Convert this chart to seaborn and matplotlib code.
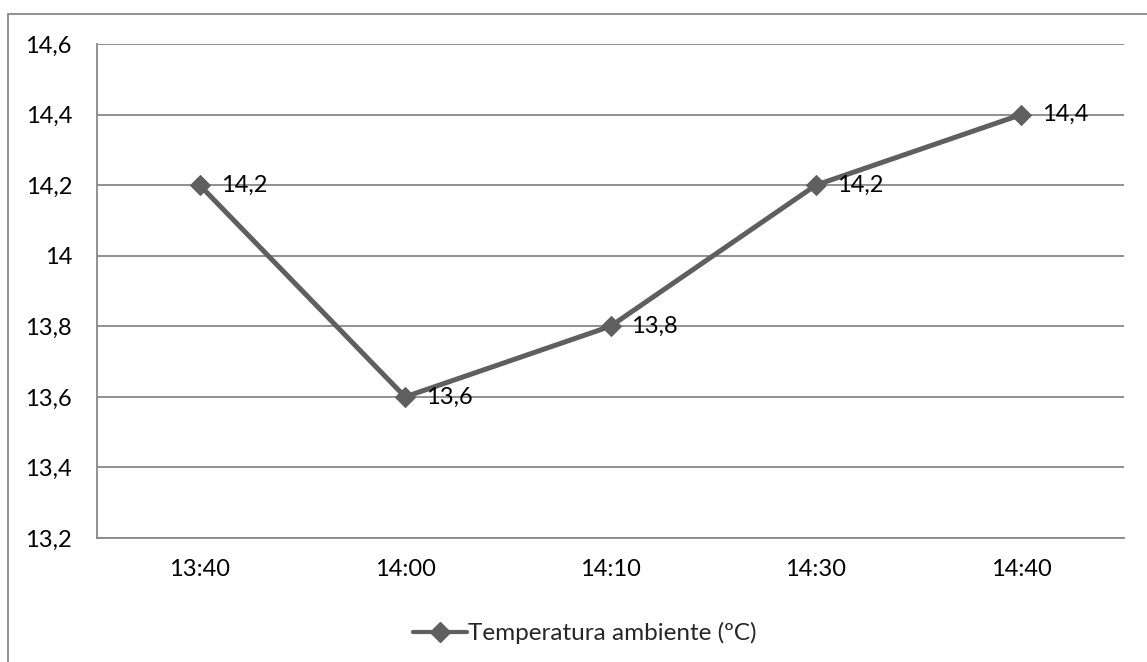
import matplotlib
matplotlib.use("Agg")
import matplotlib.pyplot as plt
import seaborn as sns
import pandas as pd
from matplotlib.patches import Rectangle
from matplotlib.lines import Line2D

times = ["13:40", "14:00", "14:10", "14:30", "14:40"]
temps = [14.2, 13.6, 13.8, 14.2, 14.4]
series_name = "Temperatura ambiente (ºC)"
yticks = [13.2, 13.4, 13.6, 13.8, 14.0, 14.2, 14.4, 14.6]

def fmt(v):
    s = f"{v:.1f}"
    if s.endswith(".0"):
        s = s[:-2]
    return s.replace(".", ",")

sns.set_theme(style="white")
plt.rcParams['font.family'] = ['Lato', 'DejaVu Sans']

df = pd.DataFrame({"time": times, "temp": temps})

W, H = 1147, 662
fig = plt.figure(figsize=(W / 100, H / 100), dpi=100)
ax = fig.add_axes([97 / W, 1 - 538 / H, (1124 - 97) / W, (538 - 44) / H])

line_color = "#5f5f5f"
grid_color = "#888888"
fs = 17

sns.lineplot(data=df, x="time", y="temp", ax=ax, color=line_color, linewidth=3.6,
             marker="D", markersize=10.5, markeredgecolor=line_color, sort=False)

ax.set_xlim(-0.5, len(times) - 0.5)
ax.set_ylim(13.2, 14.6)
ax.set_yticks(yticks)
ax.set_yticklabels([fmt(v) for v in yticks])
ax.set_xticks(range(len(times)))
ax.set_xticklabels(times)
ax.set_xlabel("")
ax.set_ylabel("")

ax.yaxis.grid(True, color=grid_color, linewidth=1.3)
ax.set_axisbelow(True)
for side in ["top", "right"]:
    ax.spines[side].set_visible(False)
for side in ["left", "bottom"]:
    ax.spines[side].set_color(grid_color)
    ax.spines[side].set_linewidth(1.3)

ax.tick_params(axis="y", length=0, pad=18, labelsize=fs, labelcolor="black")
ax.tick_params(axis="x", length=0, pad=15, labelsize=fs, labelcolor="black")

for i, v in enumerate(temps):
    ax.annotate(fmt(v), (i, v), xytext=(15, 0), textcoords="offset points",
                ha="left", va="center", fontsize=fs, color="black")

handle = Line2D([], [], color=line_color, linewidth=3.0, marker="D",
                markersize=10, markeredgecolor=line_color)
fig.legend([handle], [series_name], loc="center", bbox_to_anchor=(585 / W, 1 - 633 / H),
           frameon=False, fontsize=17.5, handlelength=2.2, handletextpad=0.05,
           borderpad=0)

border = Rectangle((8 / W, -0.5), 2.0, 1 - 14 / H + 0.5, transform=fig.transFigure,
                   fill=False, edgecolor=grid_color, linewidth=1.3, clip_on=False)
fig.patches.append(border)

fig.savefig("out.png", dpi=100)
